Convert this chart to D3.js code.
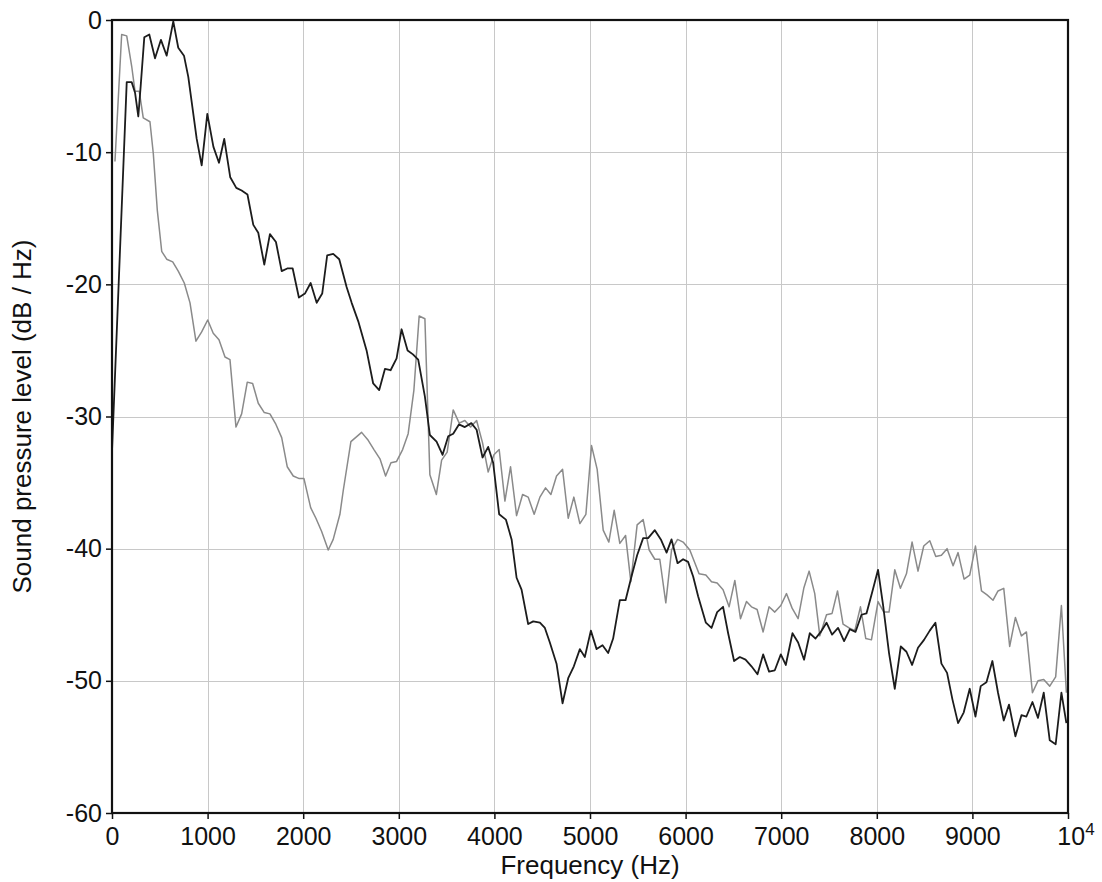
<!DOCTYPE html>
<html>
<head>
<meta charset="utf-8">
<script src="https://cdn.jsdelivr.net/npm/d3@7"></script>
<style>
  html, body { margin: 0; padding: 0; background: #fff; }
  svg { display: block; }
  text { font-family: "Liberation Sans", Arial, sans-serif; fill: #111; }
</style>
</head>
<body>
<svg id="chart" width="1102" height="882"></svg>
<script>
// Spectrum of two recordings: frequency (Hz) against sound pressure level (dB/Hz)
const xTicks = [0, 1000, 2000, 3000, 4000, 5000, 6000, 7000, 8000, 9000, 10000];
const yTicks = [0, -10, -20, -30, -40, -50, -60];

// Dark spectrum
const darkFreq = [0, 154, 206, 241, 275, 300, 338, 390, 450, 512, 572, 641, 693, 753, 798, 886, 938, 997,
  1061, 1119, 1174, 1237, 1300, 1356, 1417, 1478, 1530, 1593, 1652, 1715, 1775, 1833, 1890, 1955,
  2018, 2078, 2141, 2199, 2251, 2314, 2377, 2454, 2507, 2576, 2663, 2732, 2795, 2855, 2914, 2977,
  3029, 3092, 3148, 3203, 3273, 3325, 3395, 3458, 3517, 3569, 3629, 3691, 3759, 3814, 3876, 3935, 3987,
  4050, 4120, 4180, 4232, 4284, 4353, 4406, 4476, 4528, 4580, 4650, 4713, 4772, 4831, 4894, 4946,
  5009, 5069, 5131, 5190, 5242, 5312, 5372, 5434, 5493, 5556, 5608, 5678, 5741, 5801, 5853, 5916, 5974,
  6026, 6079, 6131, 6212, 6271, 6330, 6392, 6445, 6507, 6567, 6627, 6689, 6752, 6811, 6873, 6933, 6996,
  7048, 7118, 7177, 7239, 7299, 7359, 7414, 7474, 7532, 7595, 7658, 7717, 7777, 7840, 7892, 7955,
  8013, 8066, 8128, 8188, 8251, 8310, 8369, 8431, 8494, 8554, 8613, 8676, 8735, 8791, 8850, 8909, 8972,
  9032, 9087, 9147, 9209, 9268, 9328, 9383, 9450, 9513, 9565, 9628, 9686, 9746, 9809, 9871, 9931, 9983];
const darkDb = [-32.6, -4.7, -4.7, -5.5, -7.3, -5.0, -1.3, -1.1, -2.9, -1.5, -2.7, -0.1, -2.1, -2.7, -4.3, -9.0, -11.0, -7.1,
  -9.6, -10.8, -9.0, -11.9, -12.7, -12.9, -13.2, -15.5, -16.1, -18.5, -16.2, -16.8, -19.0, -18.8, -18.8, -21.0,
  -20.7, -19.9, -21.4, -20.7, -17.8, -17.7, -18.1, -20.2, -21.4, -22.8, -25.0, -27.5, -28.0, -26.4, -26.5, -25.6,
  -23.4, -25.0, -25.3, -25.7, -28.5, -31.4, -31.9, -32.9, -31.5, -31.3, -30.6, -30.8, -30.5, -31.0, -33.1, -32.3, -33.5,
  -37.4, -37.8, -39.3, -42.2, -43.1, -45.7, -45.5, -45.6, -46.0, -47.1, -48.7, -51.7, -49.8, -48.9, -47.6, -48.2,
  -46.2, -47.6, -47.3, -47.9, -46.8, -43.9, -43.9, -42.1, -40.5, -39.2, -39.2, -38.6, -39.3, -40.3, -39.3, -41.1, -40.8,
  -41.0, -42.1, -43.6, -45.6, -46.0, -44.8, -44.4, -46.4, -48.5, -48.2, -48.4, -48.9, -49.5, -48.0, -49.3, -49.2, -48.0,
  -48.8, -46.4, -47.1, -48.4, -46.4, -46.8, -46.3, -45.6, -46.5, -46.0, -47.0, -46.1, -46.3, -45.0, -44.9, -43.2,
  -41.6, -44.3, -47.9, -50.6, -47.4, -47.8, -48.8, -47.5, -46.9, -46.2, -45.6, -48.7, -49.4, -51.4, -53.2, -52.4, -50.6,
  -52.7, -50.4, -50.1, -48.5, -50.9, -53.0, -51.8, -54.2, -52.6, -52.7, -51.6, -52.8, -50.9, -54.5, -54.8, -50.9, -53.2];

// Light spectrum
const lightFreq = [31, 101, 154, 206, 241, 285, 327, 397, 432, 474, 520, 572, 635, 693, 756, 816, 878, 938,
  1001, 1059, 1119, 1182, 1234, 1297, 1356, 1415, 1471, 1530, 1593, 1652, 1715, 1775, 1833, 1896, 1959,
  2008, 2078, 2133, 2193, 2262, 2314, 2384, 2419, 2499, 2611, 2680, 2740, 2803, 2862, 2918, 2977,
  3040, 3098, 3158, 3213, 3273, 3325, 3393, 3448, 3506, 3569, 3632, 3691, 3751, 3814, 3876, 3935, 3995,
  4050, 4110, 4169, 4232, 4295, 4353, 4416, 4476, 4535, 4591, 4650, 4713, 4772, 4831, 4894, 4957,
  5016, 5075, 5138, 5197, 5253, 5312, 5372, 5427, 5493, 5556, 5619, 5678, 5730, 5793, 5853, 5916, 5974,
  6044, 6141, 6212, 6271, 6330, 6392, 6455, 6515, 6574, 6637, 6689, 6748, 6811, 6873, 6933, 6996,
  7055, 7114, 7177, 7236, 7292, 7351, 7404, 7474, 7532, 7589, 7647, 7710, 7770, 7829, 7885, 7944,
  8013, 8073, 8128, 8188, 8247, 8310, 8369, 8431, 8491, 8554, 8617, 8676, 8735, 8798, 8850, 8913, 8972,
  9032, 9095, 9153, 9216, 9268, 9328, 9390, 9450, 9513, 9565, 9628, 9686, 9746, 9809, 9871, 9931, 9983];
const lightDb = [-10.7, -1.1, -1.2, -3.5, -5.4, -5.4, -7.4, -7.7, -10.1, -14.4, -17.5, -18.1, -18.3, -19.0, -19.9, -21.4, -24.3, -23.6,
  -22.7, -23.7, -24.2, -25.5, -25.7, -30.8, -29.8, -27.4, -27.5, -29.0, -29.7, -29.8, -30.6, -31.6, -33.8, -34.5, -34.7,
  -34.7, -36.9, -37.7, -38.7, -40.1, -39.3, -37.4, -35.6, -31.9, -31.2, -31.8, -32.5, -33.2, -34.5, -33.5, -33.4,
  -32.5, -31.3, -28.0, -22.4, -22.6, -34.4, -35.9, -33.3, -32.7, -29.5, -30.5, -30.3, -30.8, -30.3, -32.0, -34.2, -32.9,
  -32.5, -36.4, -33.8, -37.5, -35.9, -36.1, -37.4, -36.1, -35.4, -35.9, -34.5, -34.0, -37.7, -36.1, -38.1, -37.4,
  -32.2, -34.0, -38.6, -39.5, -37.1, -39.6, -39.0, -42.5, -38.2, -37.8, -40.1, -40.8, -40.8, -44.1, -40.1, -39.3, -39.5,
  -40.1, -41.9, -42.0, -42.5, -42.6, -43.1, -44.4, -42.4, -45.3, -44.0, -44.4, -44.6, -46.3, -44.4, -44.8, -44.3,
  -43.4, -44.5, -45.3, -43.0, -41.7, -43.4, -46.6, -45.0, -44.9, -43.2, -45.7, -46.0, -46.2, -44.4, -46.8, -46.9,
  -44.0, -44.8, -44.8, -41.6, -43.0, -41.9, -39.5, -41.7, -39.8, -39.4, -40.6, -40.5, -40.0, -41.3, -40.3, -42.3, -42.0,
  -39.8, -43.2, -43.5, -43.9, -43.2, -43.0, -47.4, -45.2, -46.6, -46.3, -50.9, -50.0, -49.9, -50.4, -49.7, -44.3, -50.9];

const svg = d3.select("#chart");
const margin = { left: 112, top: 20, right: 34, bottom: 69 };
const W = 1102, H = 882;
const x = d3.scaleLinear().domain([0, 10000]).range([margin.left, W - margin.right]);
const y = d3.scaleLinear().domain([-60, 0]).range([H - margin.bottom, margin.top]);

// grid
const grid = svg.append("g").attr("stroke", "#c8c8c8").attr("stroke-width", 1);
grid.selectAll("line.v").data(xTicks.slice(1, -1)).join("line")
  .attr("x1", d => Math.round(x(d)) + 0.5).attr("x2", d => Math.round(x(d)) + 0.5)
  .attr("y1", y(0)).attr("y2", y(-60));
grid.selectAll("line.h").data(yTicks.slice(1, -1)).join("line")
  .attr("y1", d => Math.round(y(d)) + 0.5).attr("y2", d => Math.round(y(d)) + 0.5)
  .attr("x1", x(0)).attr("x2", x(10000));

// spectra
const line = d3.line().x(d => x(d[0])).y(d => y(d[1]));
svg.append("path")
  .datum(d3.zip(lightFreq, lightDb))
  .attr("fill", "none").attr("stroke", "#8a8a8a").attr("stroke-width", 1.5)
  .attr("stroke-linejoin", "round").attr("d", line);
svg.append("path")
  .datum(d3.zip(darkFreq, darkDb))
  .attr("fill", "none").attr("stroke", "#1c1c1c").attr("stroke-width", 1.8)
  .attr("stroke-linejoin", "round").attr("d", line);

// axes
const xAxis = d3.axisBottom(x).tickValues(xTicks).tickSize(6).tickPadding(8)
  .tickFormat(d => d === 10000 ? "" : d);
const yAxis = d3.axisLeft(y).tickValues(yTicks).tickSize(6).tickPadding(4)
  .tickFormat(d => d);

const gx = svg.append("g").attr("transform", `translate(0,${y(-60)})`).call(xAxis);
const gy = svg.append("g").attr("transform", `translate(${x(0)},0)`).call(yAxis);
[gx, gy].forEach(g => {
  g.select(".domain").remove();
  g.selectAll(".tick line").attr("stroke", "#111").attr("stroke-width", 1.5);
  g.selectAll(".tick text").attr("font-size", 25).attr("fill", "#111")
    .attr("font-family", "'Liberation Sans', Arial, sans-serif");
});

// 10^4 label at the right end
const last = gx.selectAll(".tick").filter(d => d === 10000).select("text");
last.append("tspan").text("10");
last.append("tspan").text("4").attr("font-size", 17).attr("dy", "-0.55em");
last.attr("dx", "0.3em");

// frame
svg.append("rect")
  .attr("x", x(0)).attr("y", y(0))
  .attr("width", x(10000) - x(0)).attr("height", y(-60) - y(0))
  .attr("fill", "none").attr("stroke", "#111").attr("stroke-width", 2.2);

// axis titles
svg.append("text")
  .attr("x", (x(0) + x(10000)) / 2).attr("y", 874)
  .attr("text-anchor", "middle").attr("font-size", 26)
  .text("Frequency (Hz)");
svg.append("text")
  .attr("transform", `translate(31,${(y(0) + y(-60)) / 2}) rotate(-90)`)
  .attr("text-anchor", "middle").attr("font-size", 26)
  .text("Sound pressure level (dB / Hz)");
</script>
</body>
</html>
